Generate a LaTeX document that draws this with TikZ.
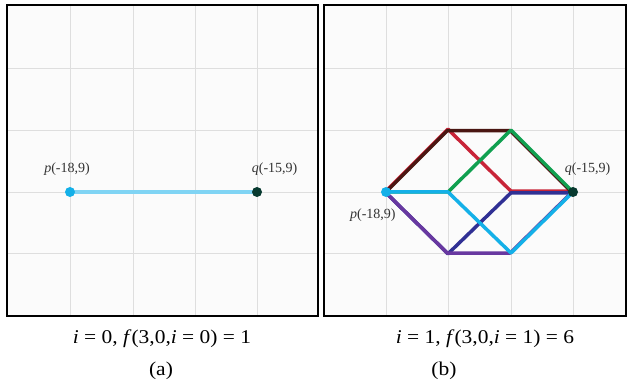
\documentclass[tikz,border=0pt]{standalone}
\usepackage{fontspec}
\setmainfont{Liberation Serif}
\usetikzlibrary{positioning}
\definecolor{grid-gray}{RGB}{222,222,222}
\definecolor{panel-bg}{RGB}{251,251,251}
\definecolor{path-brown}{RGB}{74,22,18}
\definecolor{path-red}{RGB}{200,36,56}
\definecolor{path-green}{RGB}{16,160,80}
\definecolor{path-cyan}{RGB}{20,176,232}
\definecolor{path-indigo}{RGB}{48,48,148}
\definecolor{path-purple}{RGB}{104,56,160}
\definecolor{seg-light}{RGB}{128,212,244}
\definecolor{dot-dark}{RGB}{8,58,48}
\definecolor{label-gray}{RGB}{50,50,50}

\begin{document}
\begin{tikzpicture}[x=1pt, y=-1pt,
    frame/.style={draw=black, line width=2pt},
    gridline/.style={grid-gray, line width=0.8pt},
    dot/.style={circle, inner sep=0pt, minimum size=10pt},
    lbl/.style={inner sep=0pt, text=label-gray, font=\fontsize{14}{16}\selectfont},
    caption/.style={inner sep=0pt, xscale=1.1, font=\fontsize{19.5}{22}\selectfont},
    edge/.style={line width=3.5pt, line cap=round, line join=round}
]
\useasboundingbox (0,0) rectangle (627,385);

% panel (a)
\fill[panel-bg] (7,5) rectangle (318,316);
\foreach \x in {70,133,195,257} \draw[gridline] (\x,6) -- (\x,315);
\foreach \y in {68,130,192,253} \draw[gridline] (8,\y) -- (317,\y);
\draw[frame] (7,5) rectangle (318,316);

\coordinate (pa-pos) at (70,192);
\coordinate (qa-pos) at (257,192);
\draw[edge, seg-light] (pa-pos) -- (qa-pos);
\node[dot, fill=path-cyan] (pa) at (pa-pos) {};
\node[dot, fill=dot-dark] (qa) at (qa-pos) {};
\node[lbl, above=11.5pt of pa, xshift=-3pt] (pa-lbl) {\textit{p}(-18,9)};
\node[lbl, above right=13pt and -9pt of qa] (qa-lbl) {\textit{q}(-15,9)};

% panel (b)
\fill[panel-bg] (324,5) rectangle (626,316);
\foreach \x in {386,448,511,573} \draw[gridline] (\x,6) -- (\x,315);
\foreach \y in {68,130,192,253} \draw[gridline] (325,\y) -- (625,\y);
\draw[frame] (324,5) rectangle (626,316);

\coordinate (pb-pos) at (386,192);
\coordinate (qb-pos) at (573,192);
\coordinate (A) at (448,130);
\coordinate (B) at (511,130);
\coordinate (C) at (448,192);
\coordinate (D) at (511,192);
\coordinate (E) at (448,253);
\coordinate (F) at (511,253);

% the six paths
\draw[edge, path-red, transform canvas={yshift=0.8pt}] (pb-pos) -- (A) -- (D) -- (qb-pos);
\draw[edge, path-brown, transform canvas={xshift=-0.7pt, yshift=-0.7pt}] (pb-pos) -- (A) -- (B) -- (qb-pos);
\draw[edge, path-green] (pb-pos) -- (C) -- (B) -- (qb-pos);
\draw[edge, path-indigo, transform canvas={yshift=-0.8pt}] (pb-pos) -- (E) -- (D) -- (qb-pos);
\draw[edge, path-purple, transform canvas={xshift=-0.8pt}] (pb-pos) -- (E) -- (F) -- (qb-pos);
\draw[edge, path-cyan] (pb-pos) -- (C) -- (F) -- (qb-pos);

\node[dot, fill=path-cyan] (pb) at (pb-pos) {};
\node[dot, fill=dot-dark] (qb) at (qb-pos) {};
\node[lbl, above right=13pt and -12pt of qb] (qb-lbl) {\textit{q}(-15,9)};
\node[lbl, below left=13pt and -13.5pt of pb] (pb-lbl) {\textit{p}(-18,9)};

% captions
\node[caption] (cap-a) at (162,339) {\textit{i} = 0, \textit{f}(3,0,\textit{i} = 0) = 1};
\node[caption] (tag-a) at (161,371) {(a)};
\node[caption] (cap-b) at (485,339) {\textit{i} = 1, \textit{f}(3,0,\textit{i} = 1) = 6};
\node[caption] (tag-b) at (444,371) {(b)};
\end{tikzpicture}
\end{document}
